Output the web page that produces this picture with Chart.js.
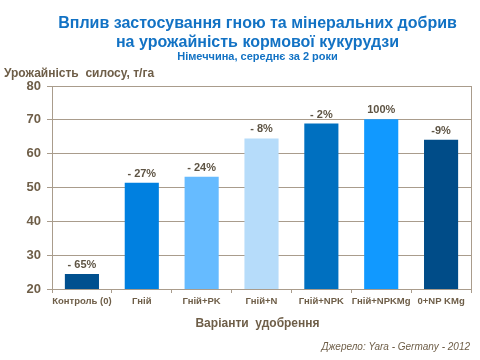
<!DOCTYPE html>
<html><head><meta charset="utf-8">
<script src="https://cdn.jsdelivr.net/npm/chart.js@4/dist/chart.umd.min.js"></script>
<style>html,body{margin:0;padding:0;background:#fff}#c{display:block}</style>
</head><body>
<canvas id="c" width="480" height="360"></canvas>
<script>
const categories = ["Контроль (0)", "Гній", "Гній+PK", "Гній+N", "Гній+NPK", "Гній+NPKMg", "0+NP KMg"];
const yields = [24.4, 51.4, 53.2, 64.5, 68.9, 70.2, 64.1];
const labels = ["- 65%", "- 27%", "- 24%", "- 8%", "- 2%", "100%", "-9%"];
const barColors = ["#00508F", "#0080E0", "#66BBFF", "#B6DCFA", "#0070C0", "#1199FF", "#004C88"];
const yTicks = [20, 30, 40, 50, 60, 70, 80];

const FONT = "'Liberation Sans', Arial, sans-serif";
const TXT = "#6E5E48";

const overlay = {
  id: 'overlay',
  afterDatasetsDraw(chart) {
    const ctx = chart.ctx;
    const meta = chart.getDatasetMeta(0);
    ctx.save();
    ctx.textAlign = 'center';
    ctx.textBaseline = 'alphabetic';
    ctx.fillStyle = "#5E5444";
    ctx.font = "bold 11px " + FONT;
    meta.data.forEach((bar, i) => {
      ctx.fillText(labels[i], bar.x, bar.y - 6);
    });
    const a = chart.chartArea;
    const cx = (a.left + a.right) / 2 - 4;
    ctx.fillStyle = "#1272C4";
    ctx.font = "bold 16px " + FONT;
    ctx.fillText("Вплив застосування гною та мінеральних добрив", cx, 28);
    ctx.fillText("на урожайність кормової кукурудзи", cx, 47);
    ctx.font = "bold 11px " + FONT;
    ctx.fillText("Німеччина, середнє за 2 роки", cx, 60);
    ctx.fillStyle = TXT;
    ctx.textAlign = 'left';
    ctx.font = "bold 12px " + FONT;
    ctx.fillText("Урожайність  силосу, т/га", 4, 77);
    ctx.textAlign = 'center';
    ctx.fillText("Варіанти  удобрення", cx, 327);
    ctx.textAlign = 'right';
    ctx.font = "italic 10px " + FONT;
    ctx.fillText("Джерело: Yara - Germany - 2012", 470, 350);
    ctx.restore();
  }
};

new Chart(document.getElementById('c'), {
  type: 'bar',
  data: {
    labels: categories,
    datasets: [{
      data: yields,
      backgroundColor: barColors,
      borderWidth: 0,
      barPercentage: 0.57,
      categoryPercentage: 1.0
    }]
  },
  options: {
    responsive: false,
    animation: false,
    devicePixelRatio: 1,
    layout: { padding: { top: 86, right: 9, bottom: 51, left: 0 } },
    plugins: { legend: { display: false }, tooltip: { enabled: false }, title: { display: false } },
    scales: {
      y: {
        min: 20, max: 80,
        afterBuildTicks(scale) { scale.ticks = yTicks.map(v => ({ value: v })); },
        afterFit(scale) { scale.width = 52; },
        grid: { color: "#A99C8C", lineWidth: 1, tickLength: 5, drawTicks: true },
        border: { color: "#A99C8C", width: 1 },
        ticks: { color: TXT, font: { family: FONT, size: 13, weight: 'bold' }, padding: 6 }
      },
      x: {
        afterFit(scale) { scale.height = 20; },
        grid: { display: true, drawOnChartArea: false, color: "#A99C8C", tickLength: 4, offset: true },
        border: { color: "#A99C8C", width: 1 },
        ticks: { color: TXT, font: { family: FONT, size: 9.5, weight: 'bold' }, padding: 3, maxRotation: 0, autoSkip: false }
      }
    }
  },
  plugins: [overlay, {
    id: 'frame',
    afterDraw(chart) {
      const a = chart.chartArea, ctx = chart.ctx;
      ctx.save();
      ctx.strokeStyle = "#A99C8C"; ctx.lineWidth = 1;
      ctx.beginPath();
      ctx.moveTo(Math.round(a.right) + 0.5, a.top);
      ctx.lineTo(Math.round(a.right) + 0.5, a.bottom);
      ctx.stroke();
      ctx.restore();
    }
  }]
});
</script>
</body></html>
